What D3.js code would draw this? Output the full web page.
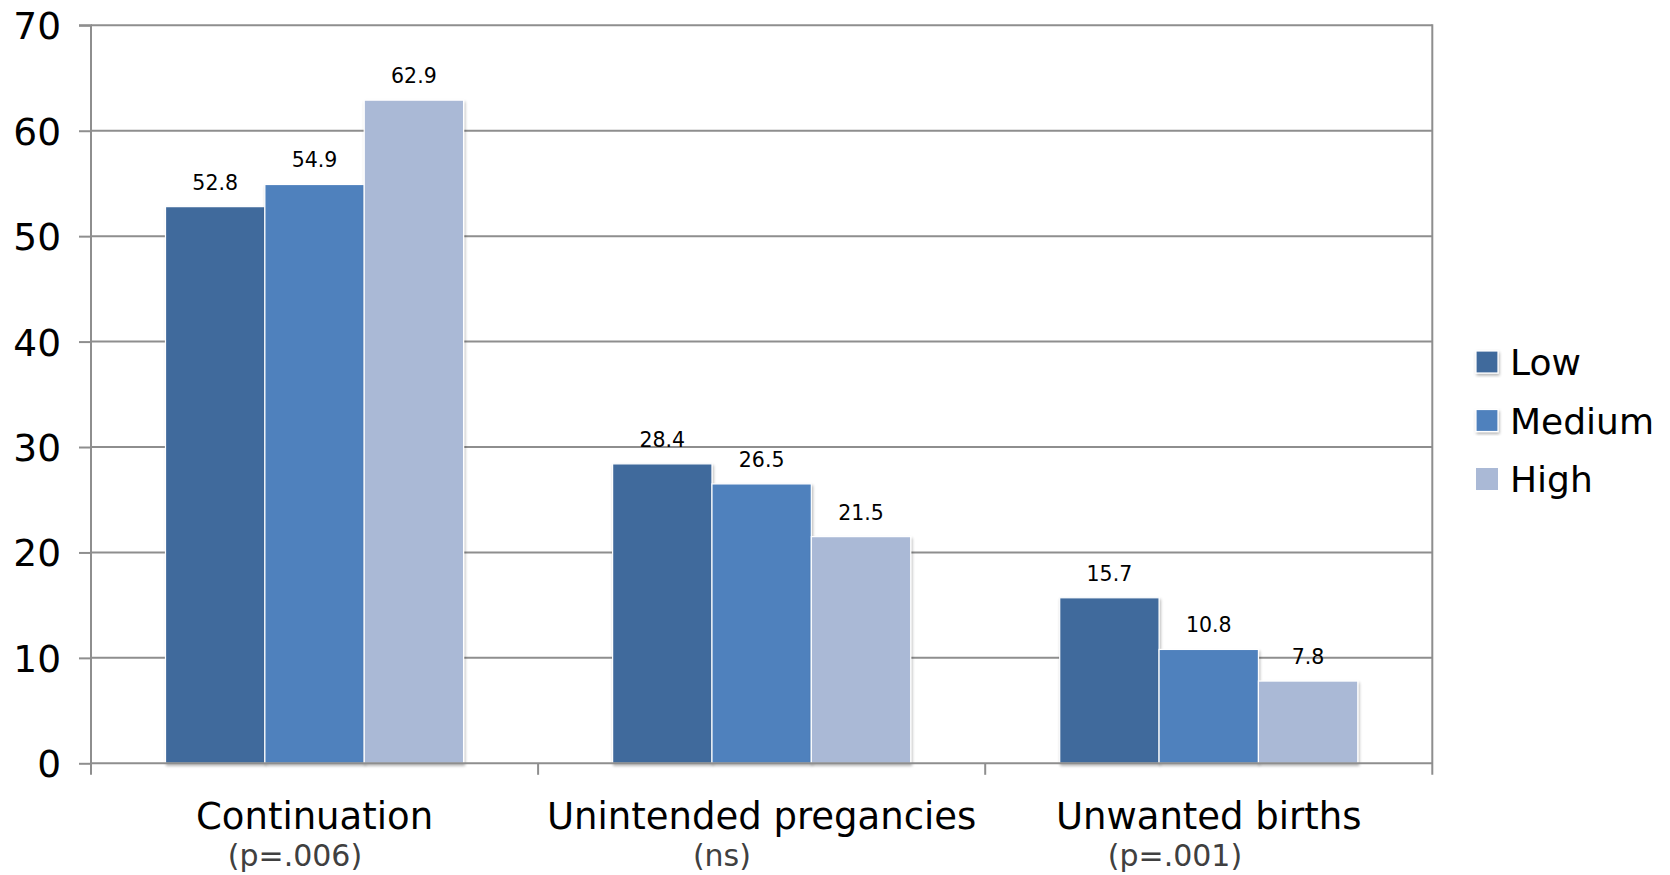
<!DOCTYPE html>
<html>
<head>
<meta charset="utf-8">
<script src="https://cdn.jsdelivr.net/npm/d3@7/dist/d3.min.js"></script>
<style>
  html, body { margin: 0; padding: 0; background: #ffffff; }
  svg { display: block; font-family: "DejaVu Sans", Verdana, sans-serif; }
</style>
</head>
<body>
<svg id="chart" width="1670" height="875"></svg>
<script>
// Outcome categories and their significance notes
const categories = ["Continuation", "Unintended pregancies", "Unwanted births"];
const pNotes = ["(p=.006)", "(ns)", "(p=.001)"];

// Series (levels) and their percentages per category
const seriesNames = ["Low", "Medium", "High"];
const lowValues = [52.8, 28.4, 15.7];
const mediumValues = [54.9, 26.5, 10.8];
const highValues = [62.9, 21.5, 7.8];

// Y axis ticks
const yTicks = [0, 10, 20, 30, 40, 50, 60, 70];

const seriesValues = [lowValues, mediumValues, highValues];
const colors = ["#416a9c", "#4f81bd", "#aab9d6"];

// Layout
const plot = { left: 91, top: 25.3, right: 1432.3, bottom: 763.3 };
const noteShift = [-19.6, -39.7, -33.8];
const gridColor = "#8e8e8e";

const svg = d3.select("#chart");

// Soft drop shadow for bars
const defs = svg.append("defs");
const shadow = defs.append("filter").attr("id", "barShadow")
  .attr("x", "-10%").attr("y", "-10%").attr("width", "130%").attr("height", "130%");
shadow.append("feGaussianBlur").attr("in", "SourceAlpha").attr("stdDeviation", 1.6).attr("result", "blur");
shadow.append("feOffset").attr("in", "blur").attr("dx", 0.5).attr("dy", 1.5).attr("result", "off");
shadow.append("feComponentTransfer").attr("in", "off").attr("result", "soft")
  .append("feFuncA").attr("type", "linear").attr("slope", 0.3);
const merge = shadow.append("feMerge");
merge.append("feMergeNode").attr("in", "soft");
merge.append("feMergeNode").attr("in", "SourceGraphic");

const y = d3.scaleLinear().domain([0, 70]).range([plot.bottom, plot.top]);
const x0 = d3.scaleBand().domain(categories).range([plot.left, plot.right]).paddingInner(0).paddingOuter(0);
const x1 = d3.scaleBand().domain(seriesNames).range([0, x0.bandwidth()]).paddingOuter(0.75).paddingInner(0);

// Gridlines
svg.append("g")
  .selectAll("line")
  .data(yTicks.filter(t => t > 0))
  .join("line")
  .attr("x1", plot.left).attr("x2", plot.right)
  .attr("y1", d => y(d)).attr("y2", d => y(d))
  .attr("stroke", gridColor).attr("stroke-width", 2);

// Right border of the plot area
svg.append("line")
  .attr("x1", plot.right).attr("x2", plot.right)
  .attr("y1", plot.top - 1).attr("y2", plot.bottom + 11.5)
  .attr("stroke", gridColor).attr("stroke-width", 2);

// Bars
const groups = svg.append("g")
  .selectAll("g")
  .data(categories)
  .join("g")
  .attr("transform", d => `translate(${x0(d)},0)`);

groups.selectAll("rect")
  .data((c, ci) => seriesNames.map((s, si) => ({ s, si, v: seriesValues[si][ci] })))
  .join("rect")
  .attr("x", d => x1(d.s))
  .attr("y", d => y(d.v))
  .attr("width", x1.bandwidth())
  .attr("height", d => y(0) - y(d.v))
  .attr("fill", d => colors[d.si])
  .attr("stroke", "#ffffff")
  .attr("stroke-width", 1.2)
  .attr("filter", "url(#barShadow)");

// Value labels
groups.selectAll("text.value")
  .data((c, ci) => seriesNames.map((s, si) => ({ s, si, v: seriesValues[si][ci] })))
  .join("text")
  .attr("class", "value")
  .attr("x", d => x1(d.s) + x1.bandwidth() / 2)
  .attr("y", d => y(d.v) - 17)
  .attr("text-anchor", "middle")
  .attr("font-size", 20.5)
  .attr("fill", "#000")
  .text(d => d.v.toFixed(1));

// Y axis
const yAxis = d3.axisLeft(y).tickValues(yTicks).tickSize(12).tickPadding(18).tickFormat(d3.format("d"));
const gy = svg.append("g").attr("transform", `translate(${plot.left},0)`).call(yAxis);
gy.select(".domain").attr("stroke", gridColor).attr("stroke-width", 2)
  .attr("d", `M-12,${plot.top}H0V${plot.bottom + 11.5}`);
gy.selectAll(".tick line").attr("stroke", gridColor).attr("stroke-width", 2);
gy.selectAll(".tick text").attr("font-size", 37.5).attr("fill", "#000")
  .attr("font-family", "'DejaVu Sans', Verdana, sans-serif").attr("dy", "0.36em");

// X axis baseline with ticks at category boundaries
const boundaries = categories.map(c => x0(c)).concat([plot.right]);
svg.append("line")
  .attr("x1", plot.left).attr("x2", plot.right)
  .attr("y1", plot.bottom).attr("y2", plot.bottom)
  .attr("stroke", gridColor).attr("stroke-width", 2);
svg.append("g").selectAll("line")
  .data(boundaries.slice(1, -1))
  .join("line")
  .attr("x1", d => d).attr("x2", d => d)
  .attr("y1", plot.bottom).attr("y2", plot.bottom + 11.5)
  .attr("stroke", gridColor).attr("stroke-width", 2);

// Category labels
svg.append("g").selectAll("text")
  .data(categories)
  .join("text")
  .attr("x", d => x0(d) + x0.bandwidth() / 2)
  .attr("y", 829)
  .attr("text-anchor", "middle")
  .attr("font-size", 37)
  .attr("fill", "#000")
  .text(d => d);

// Significance notes
svg.append("g").selectAll("text")
  .data(categories)
  .join("text")
  .attr("x", (d, i) => x0(d) + x0.bandwidth() / 2 + noteShift[i])
  .attr("y", 866)
  .attr("text-anchor", "middle")
  .attr("font-size", 30)
  .attr("fill", "#404040")
  .text((d, i) => pNotes[i]);

// Legend
const legend = svg.append("g").attr("transform", "translate(1476,351)");
const items = legend.selectAll("g")
  .data(seriesNames)
  .join("g")
  .attr("transform", (d, i) => `translate(0,${i * 58.5})`);
items.append("rect")
  .attr("width", 22).attr("height", 22)
  .attr("fill", (d, i) => colors[i])
  .attr("stroke", (d, i) => i < 2 ? "#ffffff" : "none")
  .attr("stroke-width", 1.2)
  .attr("filter", (d, i) => i < 2 ? "url(#barShadow)" : null);
items.append("text")
  .attr("x", 34)
  .attr("y", 24)
  .attr("font-size", 36)
  .attr("fill", "#000")
  .text(d => d);
</script>
</body>
</html>
